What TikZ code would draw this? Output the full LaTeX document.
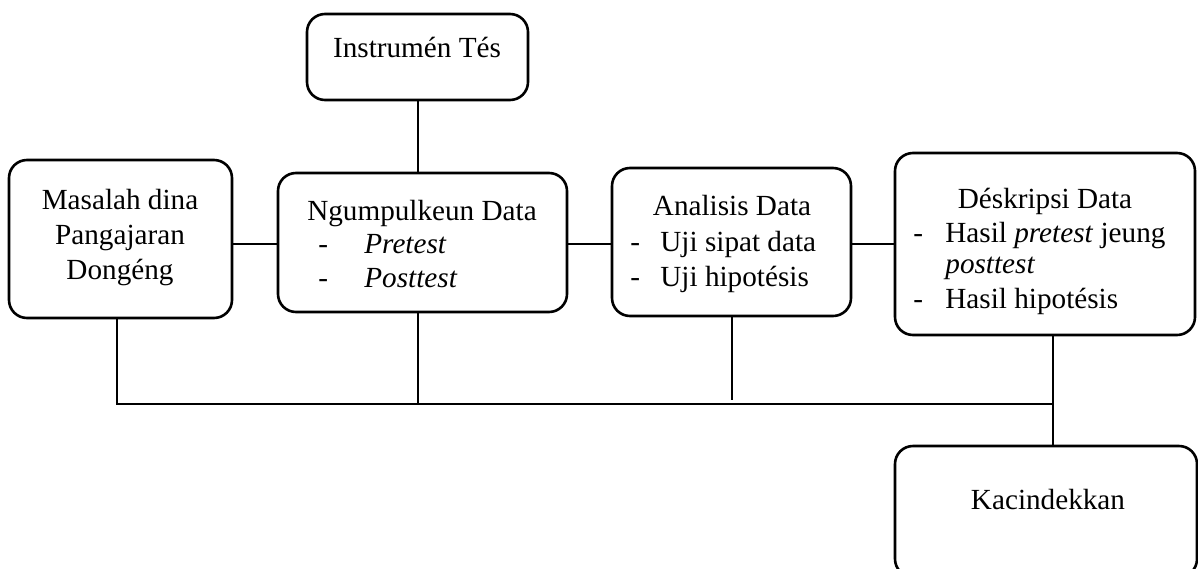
\documentclass[tikz,border=0pt]{standalone}
\usepackage{fontspec}
\setmainfont{Liberation Serif}
\begin{document}
\begin{tikzpicture}[x=0.5pt,y=-0.5pt,
  box/.style={draw,line width=1.3pt,rounded corners=9pt,inner sep=0pt,rectangle},
  conn/.style={line width=1.3pt},
  txt/.style={inner sep=0pt,font=\fontsize{14.6}{17.5}\selectfont}]
\useasboundingbox[fill=white] (0,0) rectangle (1198,568);
% boxes
\node[box,minimum width=111.5pt,minimum height=79pt] (masalah) at (120.5,239) {};
\node[box,minimum width=110.5pt,minimum height=43pt] (instr) at (417.5,57) {};
\node[box,minimum width=144.5pt,minimum height=69.5pt] (ngump) at (422.5,242.5) {};
\node[box,minimum width=119.5pt,minimum height=74pt] (anal) at (731.5,242) {};
\node[box,minimum width=150pt,minimum height=91pt] (desk) at (1045,244) {};
\node[box,minimum width=151pt,minimum height=65.5pt] (kac) at (1046,511.5) {};
% texts
\node[txt,anchor=base] (t1a) at (120,209) {Masalah dina};
\node[txt,anchor=base] (t1b) at (120,244) {Pangajaran};
\node[txt,anchor=base] (t1c) at (120,279) {Dongéng};
\node[txt,anchor=base] (t2) at (417,57) {Instrumén Tés};
\node[txt,anchor=base] (t3a) at (422,220) {Ngumpulkeun Data};
\node[txt,anchor=base west] (t3b) at (318,253) {-};
\node[txt,anchor=base west] (t3c) at (364,253) {\textit{Pretest}};
\node[txt,anchor=base west] (t3d) at (318,287) {-};
\node[txt,anchor=base west] (t3e) at (364,287) {\textit{Posttest}};
\node[txt,anchor=base] (t4a) at (732,215) {Analisis Data};
\node[txt,anchor=base west] (t4b) at (630,251) {-};
\node[txt,anchor=base west] (t4c) at (660,251) {Uji sipat data};
\node[txt,anchor=base west] (t4d) at (630,286) {-};
\node[txt,anchor=base west] (t4e) at (660,286) {Uji hipotésis};
\node[txt,anchor=base] (t5a) at (1045,208) {Déskripsi Data};
\node[txt,anchor=base west] (t5b) at (913,242) {-};
\node[txt,anchor=base west] (t5c) at (945,242) {Hasil \textit{pretest} jeung};
\node[txt,anchor=base west] (t5d) at (945,273) {\textit{posttest}};
\node[txt,anchor=base west] (t5e) at (913,308) {-};
\node[txt,anchor=base west] (t5f) at (945,308) {Hasil hipotésis};
\node[txt,anchor=base] (t6) at (1048,509) {Kacindekkan};
% connectors
\coordinate (ya) at (0,244);
\coordinate (xi) at (418,0);
\coordinate (b1) at (117,404);
\coordinate (b2) at (418,404);
\coordinate (b3) at (732,400);
\coordinate (b4) at (1053,404);
\draw[conn] (masalah.east |- ya) -- (ngump.west |- ya);
\draw[conn] (ngump.east |- ya) -- (anal.west |- ya);
\draw[conn] (anal.east |- ya) -- (desk.west |- ya);
\draw[conn] (xi |- instr.south) -- (xi |- ngump.north);
\draw[conn] (b1 |- masalah.south) -- (b1) -- (b4);
\draw[conn] (b2 |- ngump.south) -- (b2);
\draw[conn] (b3 |- anal.south) -- (b3);
\draw[conn] (b4 |- desk.south) -- (b4 |- kac.north);
\end{tikzpicture}
\end{document}
